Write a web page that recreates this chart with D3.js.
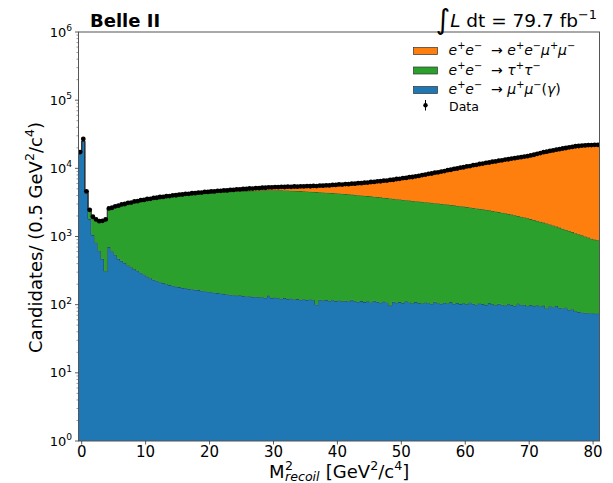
<!DOCTYPE html>
<html>
<head>
<meta charset="utf-8">
<script src="https://cdn.jsdelivr.net/npm/d3@7"></script>
<style>
  body { margin: 0; background: #fff; }
  svg text { font-family: "DejaVu Sans", sans-serif; fill: #000; white-space: pre; }
</style>
</head>
<body>
<div id="chart"></div>
<script>
// histogram bins, 0.5 GeV^2/c^4 wide, first bin starts at -0.5
const binStart = -0.5;
const binWidth = 0.5;

// e+e- -> mu+mu-(gamma)
const mumu = [
  17000,25000,4300,1800,1050,820,620,470,310,700,
  610,540,470,440,410,380,355,330,315,295,
  278,258,245,232,225,214,208,200,194,190,
  184,181,176,174,170,169,165,164,160,158,
  155,152,150,148,146,143,141,140,138,136,
  137,134,132,133,130,131,128,129,126,136,
  125,127,124,122,125,121,123,119,121,118,
  120,117,119,116,100,118,115,117,114,116,
  113,115,112,114,111,118,112,110,113,109,
  112,108,114,110,107,111,108,97,110,107,
  109,106,112,108,105,109,106,104,108,105,
  103,110,105,103,107,104,109,103,106,102,
  105,101,108,103,100,104,102,99,106,101,
  98,103,100,97,101,99,96,104,98,100,
  95,99,96,98,94,97,88,95,92,96,
  90,88,91,84,86,80,78,77,76,75,
  75,74,74
];

// e+e- -> tau+tau-
const tautau = [
  10,30,200,600,900,960,1060,1230,1430,1820,
  2010,2170,2330,2440,2550,2660,2755,2850,2935,3020,
  3102,3182,3255,3328,3390,3456,3512,3570,3626,3680,
  3731,3779,3829,3876,3920,3961,4005,4046,4090,4127,
  4165,4203,4240,4272,4304,4337,4369,4400,4427,4454,
  4478,4506,4528,4547,4570,4589,4612,4626,4639,4639,
  4655,4653,4646,4638,4620,4604,4582,4566,4544,4522,
  4490,4463,4431,4404,4390,4342,4315,4283,4256,4224,
  4197,4165,4128,4086,4049,4002,3968,3930,3887,3851,
  3808,3772,3726,3690,3648,3599,3557,3523,3465,3423,
  3381,3344,3298,3262,3225,3186,3154,3121,3082,3050,
  3017,2975,2945,2912,2873,2841,2796,2762,2719,2683,
  2640,2604,2557,2522,2485,2441,2403,2366,2314,2274,
  2232,2182,2140,2098,2049,2001,1954,1896,1852,1800,
  1755,1701,1654,1602,1556,1503,1462,1405,1358,1304,
  1260,1212,1164,1126,1079,1040,1002,963,924,890,
  855,826,806
];

// e+e- -> e+e-mu+mu-
const eemumu = [
  0,0,15,20,20,22,24,26,28,30,
  34,38,41,45,49,53,56,60,65,70,
  75,80,85,90,95,100,105,110,115,120,
  126,132,139,145,151,158,164,170,177,185,
  192,200,210,220,230,240,252,265,277,290,
  305,320,335,350,367,385,402,420,440,460,
  480,500,530,560,590,620,660,700,740,780,
  827,875,922,970,1027,1085,1142,1200,1270,1340,
  1410,1480,1560,1640,1720,1800,1890,1985,2080,2170,
  2280,2385,2490,2600,2725,2850,2975,3100,3250,3400,
  3550,3700,3850,4000,4150,4300,4500,4700,4900,5100,
  5300,5500,5700,5900,6150,6400,6650,6900,7150,7400,
  7650,7900,8170,8440,8710,8980,9250,9520,9790,10060,
  10340,10620,10900,11180,11470,11760,12050,12340,12640,12940,
  13240,13600,14100,14600,15100,15600,16025,16450,16875,17300,
  17750,18200,18650,19100,19500,19900,20200,20500,20700,20900,
  21050,21200,21300
];

// measured candidates
const data = [
  17300,27000,4600,2460,1950,1780,1680,1700,1780,2580,
  2640,2770,2830,2950,3000,3120,3150,3270,3300,3410,
  3440,3550,3570,3680,3700,3800,3810,3910,3920,4020,
  4030,4120,4130,4230,4230,4310,4320,4410,4410,4500,
  4500,4590,4580,4670,4670,4750,4740,4840,4830,4910,
  4900,4990,4980,5060,5050,5130,5120,5210,5190,5270,
  5250,5310,5290,5350,5320,5380,5350,5410,5390,5450,
  5420,5490,5460,5520,5500,5580,5560,5630,5620,5710,
  5700,5800,5780,5880,5860,5960,5950,6060,6060,6170,
  6180,6300,6310,6440,6460,6600,6620,6760,6800,6970,
  7020,7190,7240,7410,7460,7640,7740,7970,8070,8300,
  8400,8630,8730,8960,9110,9390,9530,9810,9950,10230,
  10370,10650,10810,11110,11270,11570,11730,12030,12180,12480,
  12640,12950,13110,13420,13590,13910,14070,14390,14560,14890,
  15060,15450,15820,16350,16720,17250,17540,18000,18290,18750,
  19070,19550,19870,20360,20630,21070,21250,21590,21670,21910,
  21950,22140,22150
];

const xTicks = [0, 10, 20, 30, 40, 50, 60, 70, 80];
const yTicks = [1, 10, 100, 1000, 10000, 100000, 1000000];
const yTickExp = ["0", "1", "2", "3", "4", "5", "6"];

const colors = { mumu: "#1f77b4", tautau: "#2ca02c", eemumu: "#ff7f0e" };

// layout
const W = 613, H = 483;
const plot = { left: 78.5, right: 599.5, top: 32, bottom: 441 };

const svg = d3.select("#chart").append("svg")
    .attr("width", W).attr("height", H);
svg.append("rect").attr("width", W).attr("height", H).attr("fill", "#fff");

const x = d3.scaleLinear().domain([-0.5, 81]).range([plot.left, plot.right]);
const y = d3.scaleLog().domain([1, 1e6]).range([plot.bottom, plot.top]);

// small helper for matplotlib-ish mathtext (italic / super / subscript pieces)
function mathText(parent, px, py, parts, size, anchor) {
    const t = parent.append("text").attr("x", px).attr("y", py)
        .attr("font-size", size).attr("text-anchor", anchor || "start");
    let shift = 0;
    parts.forEach(([s, kind]) => {
        let target = 0;
        if (kind === "sup") target = -size * 0.42;
        if (kind === "sub") target = size * 0.28;
        if (kind === "big") target = size * 0.12;
        const ts = t.append("tspan").attr("dy", target - shift).text(s);
        shift = target;
        if (kind === "sup" || kind === "sub") ts.attr("font-size", size * 0.7);
        if (kind === "i") ts.attr("font-style", "italic");
        if (kind === "big") ts.attr("font-size", size * 1.5);
    });
    return t;
}

// stack the three processes
const bins = d3.range(mumu.length).map(i => ({
    x0: binStart + i * binWidth,
    mumu: mumu[i], tautau: tautau[i], eemumu: eemumu[i], data: data[i]
}));
const series = d3.stack().keys(["mumu", "tautau", "eemumu"])(bins);

svg.append("clipPath").attr("id", "clip")
    .append("rect")
    .attr("x", plot.left).attr("y", plot.top)
    .attr("width", plot.right - plot.left).attr("height", plot.bottom - plot.top);

const plotG = svg.append("g").attr("clip-path", "url(#clip)");

const area = d3.area()
    .curve(d3.curveStepAfter)
    .x(p => x(p.x))
    .y0(p => y(Math.max(1, p.lo)))
    .y1(p => y(Math.max(1, p.hi)));

const edge = d3.line()
    .curve(d3.curveStepAfter)
    .x(p => x(p.x))
    .y(p => y(Math.max(1, p.hi)));

series.forEach(s => {
    const pts = s.map((d, i) => ({ x: bins[i].x0, lo: d[0], hi: d[1] }));
    const last = pts[pts.length - 1];
    pts.push({ x: last.x + binWidth, lo: last.lo, hi: last.hi });
    plotG.append("path").attr("d", area(pts)).attr("fill", colors[s.key]);
    plotG.append("path").attr("d", edge(pts))
        .attr("fill", "none").attr("stroke", "#1c1c1c")
        .attr("stroke-opacity", 0.75).attr("stroke-width", 0.8);
});

// data points with poisson error bars
plotG.selectAll(".err").data(bins).enter().append("line")
    .attr("x1", d => x(d.x0 + binWidth / 2)).attr("x2", d => x(d.x0 + binWidth / 2))
    .attr("y1", d => y(d.data + Math.sqrt(d.data)))
    .attr("y2", d => y(d.data - Math.sqrt(d.data)))
    .attr("stroke", "#000").attr("stroke-width", 1);

plotG.selectAll(".pt").data(bins).enter().append("circle")
    .attr("cx", d => x(d.x0 + binWidth / 2))
    .attr("cy", d => y(d.data))
    .attr("r", 2.4)
    .attr("fill", "#000");

// spines
svg.append("rect")
    .attr("x", plot.left).attr("y", plot.top)
    .attr("width", plot.right - plot.left).attr("height", plot.bottom - plot.top)
    .attr("fill", "none").attr("stroke", "#555").attr("stroke-width", 1);

// x ticks
xTicks.forEach(v => {
    svg.append("line")
        .attr("x1", x(v)).attr("x2", x(v))
        .attr("y1", plot.bottom).attr("y2", plot.bottom + 3.5)
        .attr("stroke", "#333").attr("stroke-width", 0.8);
    svg.append("text")
        .attr("x", x(v)).attr("y", 456.5)
        .attr("text-anchor", "middle").attr("font-size", 15)
        .text(v);
});

// y ticks (major + minor)
yTicks.forEach((v, i) => {
    svg.append("line")
        .attr("x1", plot.left - 3.5).attr("x2", plot.left)
        .attr("y1", y(v)).attr("y2", y(v))
        .attr("stroke", "#333").attr("stroke-width", 0.8);
    mathText(svg, 72, y(v) + 4.5, [["10", "r"], [yTickExp[i], "sup"]], 13, "end");
    if (i < yTicks.length - 1) {
        d3.range(2, 10).forEach(m => {
            svg.append("line")
                .attr("x1", plot.left - 2).attr("x2", plot.left)
                .attr("y1", y(v * m)).attr("y2", y(v * m))
                .attr("stroke", "#555").attr("stroke-width", 0.6);
        });
    }
});

// axis labels
const yLab = svg.append("g").attr("transform", "translate(41.5,237.5) rotate(-90)");
mathText(yLab, 0, 0, [["Candidates/ (0.5 GeV", "r"], ["2", "sup"], ["/c", "r"], ["4", "sup"], [")", "r"]], 18, "middle");

// x label: M with stacked super/subscript
const xl = { x: 269, y: 477.5, size: 18 };
const mText = svg.append("text").attr("x", xl.x).attr("y", xl.y).attr("font-size", xl.size).text("M");
const mW = mText.node().getComputedTextLength();
svg.append("text").attr("x", xl.x + mW + 0.5).attr("y", xl.y - 7.5)
    .attr("font-size", xl.size * 0.7).text("2");
const sub = svg.append("text").attr("x", xl.x + mW + 0.5).attr("y", xl.y + 3.5)
    .attr("font-size", xl.size * 0.7).attr("font-style", "italic").text("recoil");
const subW = sub.node().getComputedTextLength();
mathText(svg, xl.x + mW + subW + 1, xl.y,
    [[" [GeV", "r"], ["2", "sup"], ["/c", "r"], ["4", "sup"], ["]", "r"]], xl.size);

// titles
svg.append("text").attr("x", 90).attr("y", 27)
    .attr("font-size", 18).attr("font-weight", "bold").text("Belle II");
mathText(svg, 597, 27,
    [["\u222B", "big"], ["L", "i"], [" dt = 79.7 fb", "r"], ["\u22121", "sup"]], 18.5, "end");

// legend
const legend = svg.append("g");
const legendRows = [
    { key: "eemumu", y: 55, parts: [["e","i"],["+","sup"],["e","i"],["\u2212","sup"],["  \u2192 ","r"],["e","i"],["+","sup"],["e","i"],["\u2212","sup"],["\u03BC","i"],["+","sup"],["\u03BC","i"],["\u2212","sup"]] },
    { key: "tautau", y: 74.5, parts: [["e","i"],["+","sup"],["e","i"],["\u2212","sup"],["  \u2192 ","r"],["\u03C4","i"],["+","sup"],["\u03C4","i"],["\u2212","sup"]] },
    { key: "mumu", y: 94, parts: [["e","i"],["+","sup"],["e","i"],["\u2212","sup"],["  \u2192 ","r"],["\u03BC","i"],["+","sup"],["\u03BC","i"],["\u2212","sup"],["(","r"],["\u03B3","i"],[")","r"]] }
];
legendRows.forEach(r => {
    legend.append("rect")
        .attr("x", 413.5).attr("y", r.y - 7.5)
        .attr("width", 24).attr("height", 7)
        .attr("fill", colors[r.key]).attr("stroke", "#333").attr("stroke-width", 0.7);
    mathText(legend, 448.5, r.y, r.parts, 14);
});
legend.append("line")
    .attr("x1", 425.5).attr("x2", 425.5).attr("y1", 100).attr("y2", 110.5)
    .attr("stroke", "#000").attr("stroke-width", 1);
legend.append("circle").attr("cx", 425.5).attr("cy", 105.3).attr("r", 2.2).attr("fill", "#000");
legend.append("text").attr("x", 449).attr("y", 110.5).attr("font-size", 12.5).text("Data");
</script>
</body>
</html>
